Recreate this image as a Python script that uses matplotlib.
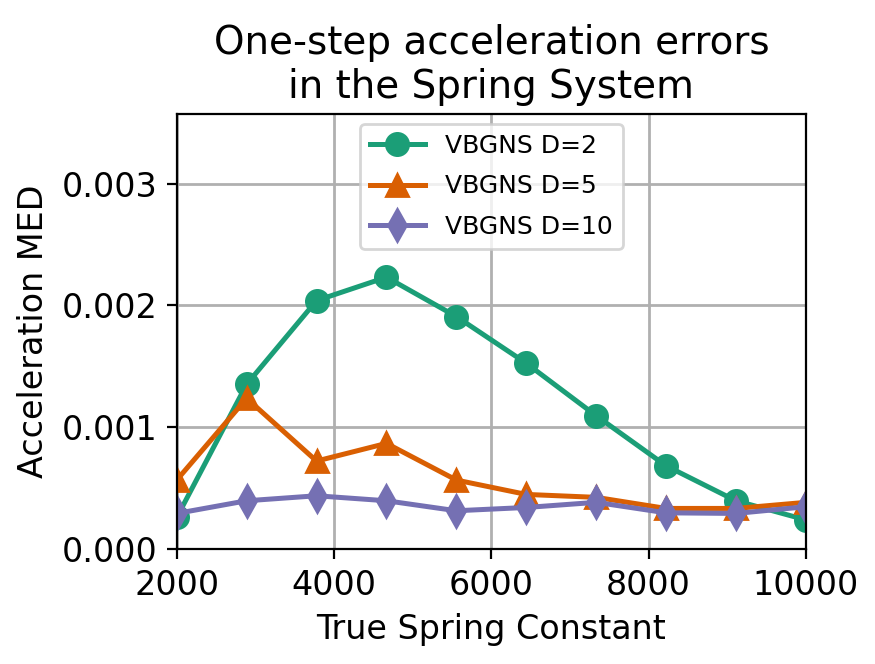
import matplotlib
matplotlib.use("Agg")
import matplotlib.pyplot as plt

spring_constants = [2000, 2888.9, 3777.8, 4666.7, 5555.6, 6444.4, 7333.3, 8222.2, 9111.1, 10000]
med_d2 = [0.00026, 0.001353, 0.00204, 0.002232, 0.001909, 0.001526, 0.001095, 0.000684, 0.000397, 0.00024]
med_d5 = [0.000567, 0.001238, 0.000723, 0.000868, 0.000567, 0.000449, 0.000425, 0.000334, 0.000334, 0.000384]
med_d10 = [0.000293, 0.000397, 0.000438, 0.000397, 0.000315, 0.000342, 0.000384, 0.000298, 0.000293, 0.000348]
labels = ["VBGNS D=2", "VBGNS D=5", "VBGNS D=10"]
colors = ["#1b9e77", "#d95f02", "#7570b3"]
markers = ["o", "^", "d"]

fig = plt.figure(figsize=(4.375, 3.32), dpi=200)
ax = fig.add_axes([0.202, 0.173, 0.719, 0.655])
for ys, lab, c, m in zip([med_d2, med_d5, med_d10], labels, colors, markers):
    ax.plot(spring_constants, ys, marker=m, color=c, label=lab, markersize=8, linewidth=1.8)
ax.set_xlim(2000, 10000)
ax.set_ylim(0, 0.00357)
ax.set_xticks([2000, 4000, 6000, 8000, 10000])
ax.set_yticks([0, 0.001, 0.002, 0.003])
ax.set_yticklabels(["0.000", "0.001", "0.002", "0.003"])
ax.tick_params(labelsize=12)
ax.grid(True, color="#b0b0b0", linewidth=1)
ax.set_axisbelow(True)
ax.set_xlabel("True Spring Constant", fontsize=12)
ax.set_ylabel("Acceleration MED", fontsize=12)
ax.set_title("One-step acceleration errors\nin the Spring System", fontsize=14)
ax.legend(loc="upper center", fontsize=9, labelspacing=0.65, borderaxespad=0.4, handlelength=2.2)
fig.savefig("out.png", dpi=200)
